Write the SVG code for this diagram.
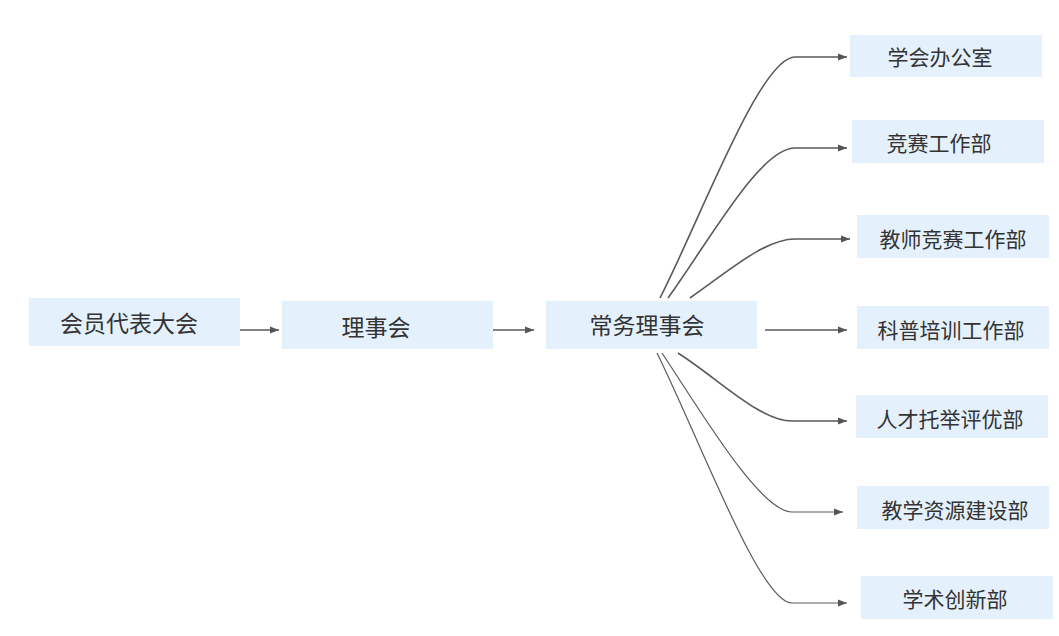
<svg xmlns="http://www.w3.org/2000/svg" width="1059" height="636" viewBox="0 0 1059 636">
<defs>
<style>
.box{fill:#e4f1fd;}
.t{font-family:"Noto Sans CJK SC","Noto Sans",sans-serif;font-size:21px;fill:#333;text-anchor:middle;dominant-baseline:central;}
.tl{font-size:23px;}
.c{fill:none;stroke:#5a5a5a;stroke-width:1.6;}
.c2{fill:none;stroke:#5a5a5a;stroke-width:1.2;}
</style>
<marker id="ah" markerWidth="10" markerHeight="8" refX="9" refY="4" orient="auto" markerUnits="userSpaceOnUse">
<path d="M0,0.5 L9,4 L0,7.5 Z" fill="#555"/>
</marker>
</defs>
<rect width="1059" height="636" fill="#fff"/>
<g id="connectors">
<path class="c" d="M240,330 H279" marker-end="url(#ah)"/>
<path class="c" d="M493,330 H534" marker-end="url(#ah)"/>
<path class="c" d="M765,330 H847" marker-end="url(#ah)"/>
<path class="c" d="M660,298 C700,220 760,57 795,57 H847" marker-end="url(#ah)"/>
<path class="c" d="M668,298 C710,240 760,148 795,148 H847" marker-end="url(#ah)"/>
<path class="c" d="M690,298 C730,270 765,239 795,239 H850" marker-end="url(#ah)"/>
<path class="c" d="M678,353 C720,380 760,421 792,421 H847" marker-end="url(#ah)"/>
<path class="c2" d="M662,353 C700,410 760,512 792,512 H843" marker-end="url(#ah)"/>
<path class="c2" d="M657,353 C700,440 760,603 792,603 H847" marker-end="url(#ah)"/>
</g>
<g id="n1"><rect class="box" x="29" y="298" width="211" height="48"/><text class="t tl" x="129" y="322">会员代表大会</text></g>
<g id="n2"><rect class="box" x="282" y="301" width="211" height="48"/><text class="t tl" x="376" y="326">理事会</text></g>
<g id="n3"><rect class="box" x="546" y="301" width="211" height="48"/><text class="t tl" x="647" y="324">常务理事会</text></g>
<g id="n4"><rect class="box" x="850" y="35" width="192" height="42"/><text class="t" x="940" y="56">学会办公室</text></g>
<g id="n5"><rect class="box" x="852" y="120" width="192" height="43"/><text class="t" x="939" y="142">竞赛工作部</text></g>
<g id="n6"><rect class="box" x="857" y="215" width="192" height="43"/><text class="t" x="953" y="238">教师竞赛工作部</text></g>
<g id="n7"><rect class="box" x="857" y="306" width="192" height="43"/><text class="t" x="951" y="329">科普培训工作部</text></g>
<g id="n8"><rect class="box" x="856" y="395" width="192" height="43"/><text class="t" x="950" y="418">人才托举评优部</text></g>
<g id="n9"><rect class="box" x="857" y="486" width="192" height="43"/><text class="t" x="955" y="509">教学资源建设部</text></g>
<g id="n10"><rect class="box" x="861" y="576" width="192" height="43"/><text class="t" x="955" y="598">学术创新部</text></g>
</svg>
